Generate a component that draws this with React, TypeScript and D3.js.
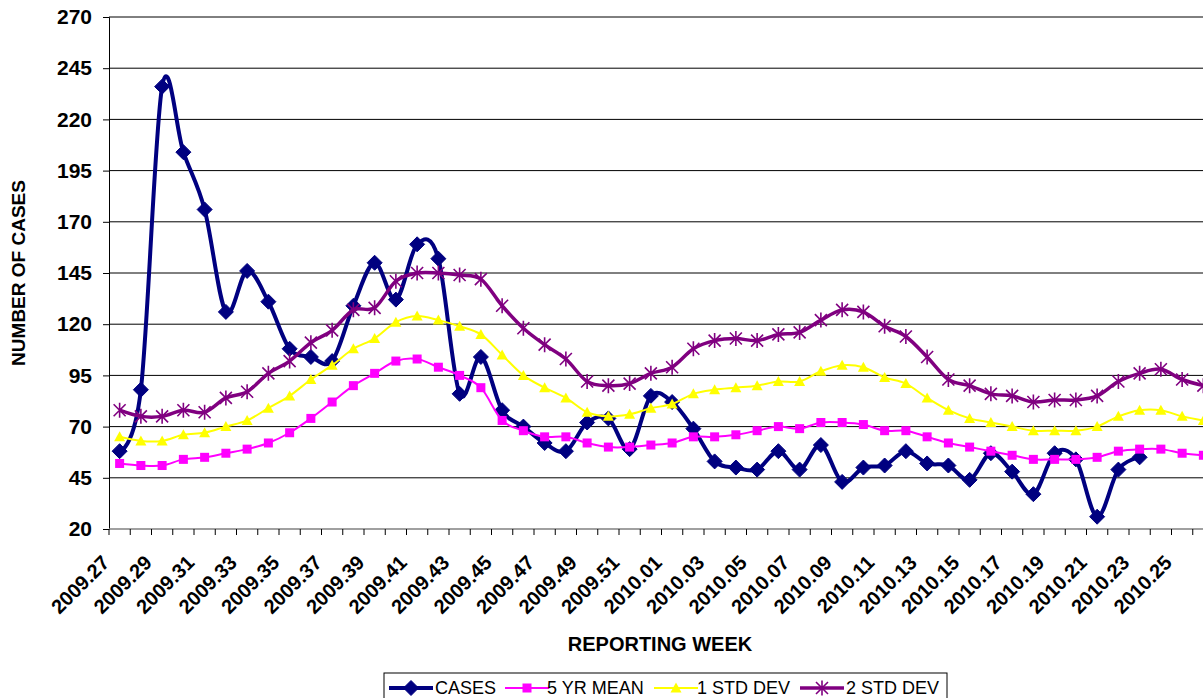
import {useEffect, useRef} from "react";
import * as d3 from "d3";

const SvgWidth = 1203;
const SvgHeight = 698;

const weeks = [
    "2009.27", "2009.28", "2009.29", "2009.30", "2009.31", "2009.32", "2009.33", "2009.34", "2009.35",
    "2009.36", "2009.37", "2009.38", "2009.39", "2009.40", "2009.41", "2009.42", "2009.43", "2009.44",
    "2009.45", "2009.46", "2009.47", "2009.48", "2009.49", "2009.50", "2009.51", "2009.52",
    "2010.01", "2010.02", "2010.03", "2010.04", "2010.05", "2010.06", "2010.07", "2010.08", "2010.09",
    "2010.10", "2010.11", "2010.12", "2010.13", "2010.14", "2010.15", "2010.16", "2010.17", "2010.18",
    "2010.19", "2010.20", "2010.21", "2010.22", "2010.23", "2010.24", "2010.25", "2010.26"
];

const cases = [58, 88, 236, 204, 176, 126, 146, 131, 108, 104, 102, 129, 150, 132,
    159, 152, 86, 104, 78, 70, 62, 58, 72, 74, 59, 85, 82, 69, 53, 50, 49, 58, 49,
    61, 43, 50, 51, 58, 52, 51, 44, 57, 48, 37, 57, 54, 26, 49, 55, null, null, null];

const mean5yr = [52, 51, 51, 54, 55, 57, 59, 62, 67, 74, 82, 90, 96, 102,
    103, 99, 95, 89, 73, 68, 65, 65, 62, 60, 60, 61, 62, 65, 65, 66, 68, 70, 69,
    72, 72, 71, 68, 68, 65, 62, 60, 58, 56, 54, 54, 54, 55, 58, 59, 59, 57, 56];

const std1 = [65, 63, 63, 66, 67, 70, 73, 79, 85, 93, 100, 108, 113, 121,
    124, 122, 119, 115, 105, 95, 89, 84, 77, 75, 76, 79, 81, 86, 88, 89, 90, 92, 92,
    97, 100, 99, 94, 91, 84, 78, 74, 72, 70, 68, 68, 68, 70, 75, 78, 78, 75, 73];

const std2 = [78, 75, 75, 78, 77, 84, 87, 96, 102, 111, 117, 127, 128, 141,
    145, 145, 144, 142, 129, 118, 110, 103, 92, 90, 91, 96, 99, 108, 112, 113, 112, 115, 116,
    122, 127, 126, 119, 114, 104, 93, 90, 86, 85, 82, 83, 83, 85, 92, 96, 98, 93, 90];

const yTicks = [20, 45, 70, 95, 120, 145, 170, 195, 220, 245, 270];

const casesColor = "#000080"
const meanColor = "#FF00FF"
const std1Color = "#FFFF00"
const std2Color = "#800080"

const font = "'Liberation Sans', Arial, sans-serif";

const plotLeft = 109;
const plotRight = 1214;
const plotTop = 17;
const plotBottom = 529;

function Marker({kind, color}: any) {
    if (kind === "diamond") {
        return <path d="M0,-7.5L7.5,0L0,7.5L-7.5,0Z" fill={color} stroke={color} strokeWidth={1}/>
    }
    if (kind === "square") {
        return <rect x={-4.5} y={-4.5} width={9} height={9} fill={color}/>
    }
    if (kind === "triangle") {
        return <path d="M0,-5.5L5.5,4.5L-5.5,4.5Z" fill={color}/>
    }
    return <path d="M-6,-6L6,6M-6,6L6,-6M0,-7.5L0,7.5" fill="none" stroke={color} strokeWidth={1.6}/>
}

function App() {
    const xAxisRef = useRef(null);
    const yAxisRef = useRef(null);

    const xScale = d3.scaleBand()
        .domain(weeks)
        .range([plotLeft, plotRight]);

    const yScale = d3.scaleLinear()
        .domain([20, 270])
        .range([plotBottom, plotTop]);

    const xc = (i) => xScale(weeks[i]) + xScale.bandwidth() / 2;

    const line = d3.line()
        // @ts-ignore
        .defined((d) => d != null)
        // @ts-ignore
        .x((d, i) => xc(i))
        // @ts-ignore
        .y((d) => yScale(d))
        .curve(d3.curveCardinal.tension(0));

    const series = [
        {name: "CASES", values: cases, color: casesColor, width: 4, marker: "diamond"},
        {name: "5 YR MEAN", values: mean5yr, color: meanColor, width: 2, marker: "square"},
        {name: "1 STD DEV", values: std1, color: std1Color, width: 2, marker: "triangle"},
        {name: "2 STD DEV", values: std2, color: std2Color, width: 3.5, marker: "star"},
    ];

    useEffect(() => {
        let xAxisElm = d3.select(xAxisRef.current);
        let yAxisElm = d3.select(yAxisRef.current);

        yAxisElm.call(d3.axisLeft(yScale).tickValues(yTicks).tickSize(6).tickPadding(11));
        yAxisElm.selectAll("text")
            .attr("font-family", font)
            .attr("font-weight", "bold")
            .attr("font-size", 21)
            .attr("fill", "#000");
        yAxisElm.selectAll("line").attr("stroke", "#000");
        yAxisElm.select(".domain").attr("stroke", "#000");

        // category boundary ticks
        xAxisElm.selectAll("*").remove();
        xAxisElm.append("line")
            .attr("x1", plotLeft).attr("x2", plotRight)
            .attr("y1", plotBottom).attr("y2", plotBottom)
            .attr("stroke", "#808080").attr("stroke-width", 1.5);
        for (let i = 0; i <= weeks.length; i++) {
            let x = plotLeft + i * xScale.bandwidth();
            xAxisElm.append("line")
                .attr("x1", x).attr("x2", x)
                .attr("y1", plotBottom).attr("y2", plotBottom + 6)
                .attr("stroke", "#000");
        }
        weeks.forEach((w, i) => {
            if (i % 2 !== 0) return;
            xAxisElm.append("text")
                .attr("transform", `translate(${xc(i) - 9}, ${plotBottom + 35}) rotate(-45)`)
                .attr("text-anchor", "end")
                .attr("font-family", font)
                .attr("font-weight", "bold")
                .attr("font-size", 20)
                .text(w);
        });
    }, []);

    return (
        <svg width={SvgWidth} height={SvgHeight}
             style={{position: "absolute", left: 0, top: 0, background: "#fff"}}>
            <g>
                {yTicks.filter(t => t > 20).map(t => (
                    <line key={t} x1={plotLeft} x2={plotRight} y1={yScale(t)} y2={yScale(t)}
                          stroke="#000" strokeWidth={1}/>
                ))}
            </g>
            <g ref={yAxisRef} transform={`translate(${plotLeft}, 0)`}></g>
            <g ref={xAxisRef}></g>

            {series.map(s => (
                <g key={s.name}>
                    <path d={line(s.values as any)} fill="none" stroke={s.color}
                          strokeWidth={s.width} strokeLinejoin="round"/>
                    {s.values.map((v, i) => v == null ? null : (
                        <g key={i} transform={`translate(${xc(i)}, ${yScale(v)})`}>
                            <Marker kind={s.marker} color={s.color}/>
                        </g>
                    ))}
                </g>
            ))}

            <text transform={`translate(25, 273) rotate(-90)`} textAnchor="middle"
                  fontFamily={font} fontWeight="bold" fontSize={19}>
                NUMBER OF CASES
            </text>
            <text x={660} y={651} textAnchor="middle"
                  fontFamily={font} fontWeight="bold" fontSize={20}>
                REPORTING WEEK
            </text>

            <g>
                <rect x={384} y={673} width={563} height={32} fill="#fff" stroke="#000" strokeWidth={1}/>
                {series.map((s, k) => {
                    const lx = [389, 505, 654, 800][k];
                    const tx = [435, 547, 697, 846][k];
                    return (
                        <g key={s.name}>
                            <line x1={lx} x2={lx + 44} y1={688} y2={688} stroke={s.color} strokeWidth={s.width}/>
                            <g transform={`translate(${lx + 22}, 688)`}>
                                <Marker kind={s.marker} color={s.color}/>
                            </g>
                            <text x={tx} y={694} fontFamily={font} fontSize={18}>{s.name}</text>
                        </g>
                    )
                })}
            </g>
        </svg>
    )
}

export default App;
